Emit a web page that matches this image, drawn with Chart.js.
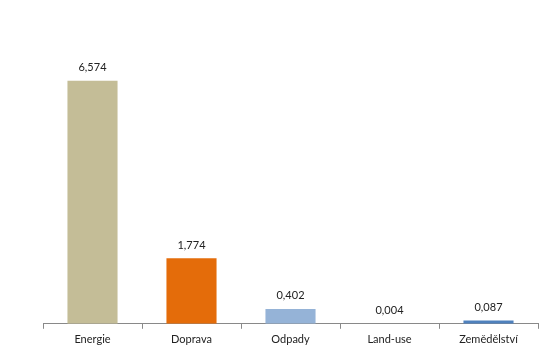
<!DOCTYPE html>
<html>
<head>
<meta charset="utf-8">
<script src="https://cdn.jsdelivr.net/npm/chart.js@4"></script>
<style>
html,body{margin:0;padding:0;background:#fff;}
#wrap{width:551px;height:354px;}
</style>
</head>
<body>
<div id="wrap"><canvas id="c" width="551" height="354"></canvas></div>
<script>
const categories = ["Energie", "Doprava", "Odpady", "Land-use", "Zemědělství"];
const values = [6.574, 1.774, 0.402, 0.004, 0.087];
const barColors = ["#C4BD97", "#E46C0A", "#95B3D7", "#95B3D7", "#4F81BD"];

const fmt = v => v.toFixed(3).replace(".", ",");

const labelPlugin = {
  id: "valueLabels",
  afterDatasetsDraw(chart) {
    const ctx = chart.ctx;
    const meta = chart.getDatasetMeta(0);
    ctx.save();
    ctx.font = "11px Lato, 'Open Sans', sans-serif";
    ctx.fillStyle = "#222";
    ctx.textAlign = "center";
    ctx.textBaseline = "middle";
    meta.data.forEach((bar, i) => {
      ctx.fillText(fmt(values[i]), bar.x, bar.y - 13);
    });
    ctx.restore();
  }
};

new Chart(document.getElementById("c"), {
  type: "bar",
  data: {
    labels: categories,
    datasets: [{
      data: values,
      backgroundColor: barColors,
      borderWidth: 0,
      categoryPercentage: 1,
      barPercentage: 0.506
    }]
  },
  options: {
    responsive: false,
    animation: false,
    layout: { padding: { left: 43, right: 13, top: 65, bottom: 4 } },
    plugins: { legend: { display: false }, tooltip: { enabled: false } },
    scales: {
      y: { display: false, min: 0, max: 7 },
      x: {
        grid: { display: true, drawOnChartArea: false, tickLength: 5, color: "#898989", offset: true },
        border: { display: true, color: "#898989", width: 1 },
        ticks: { color: "#222", font: { family: "Lato, 'Open Sans', sans-serif", size: 11 }, padding: 4, maxRotation: 0 }
      }
    }
  },
  plugins: [labelPlugin]
});
</script>
</body>
</html>
